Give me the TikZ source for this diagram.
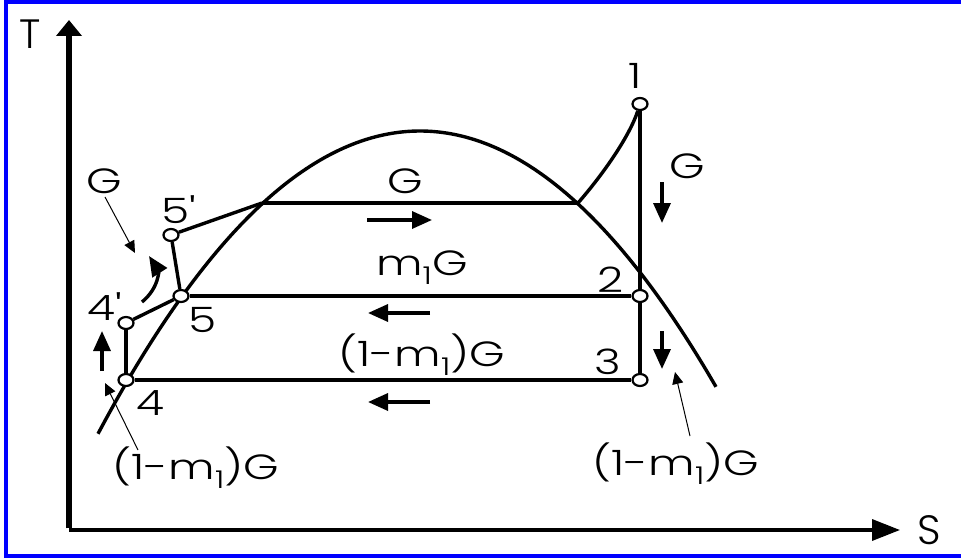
\documentclass[tikz,border=0pt]{standalone}
\usepackage{fontspec}
\setmainfont{Poppins Light}
\newfontfamily\widefont{Poppins Light}[FakeStretch=1.3]
\usetikzlibrary{arrows.meta,shapes.geometric}
\begin{document}
\begin{tikzpicture}[x=1pt,y=-1pt,
 thk/.style={line width=3.4pt},
 pnt/.style={ellipse,draw,line width=2.2pt,fill=white,minimum width=15pt,minimum height=12pt,inner sep=0pt},
 lbl/.style={font=\widefont\fontsize{35}{37}\selectfont, inner sep=0pt},
 axlbl/.style={font=\fontsize{41}{43}\selectfont, inner sep=0pt},
 thinarrow/.style={line width=1pt,-{Triangle[length=12pt,width=11pt]}},
 flow/.style={line width=3.4pt,-{Triangle[length=20pt,width=17pt]}},
]
\useasboundingbox (0,0) rectangle (961,559);
\draw[blue, line width=4pt] (6,2.5) rectangle (975,556);
% axes
\coordinate (o) at (69,530);
\coordinate (ty) at (69,20);
\coordinate (sx) at (900,530);
\draw[line width=5.5pt,-{Triangle[length=16pt,width=25pt]}] ([yshift=1.75pt]o) -- (ty);
\draw[line width=3.5pt,-{Triangle[length=28pt,width=21pt]}] (o) -- (sx);
\node[axlbl] (tl) at (30,34) {T};
\node[axlbl] (sl) at (929,530) {S};
% dome
\draw[thk] plot[domain=98:716,samples=80,smooth] (\x,{131+29.2*((\x-420)/100)^2});
% state points
\node[pnt] (p1) at (640,104) {};
\node[pnt] (p2) at (640,296) {};
\node[pnt] (p3) at (640,380) {};
\node[pnt] (p4) at (126,380) {};
\node[pnt] (p4p) at (126,323) {};
\node[pnt] (p5) at (181,296) {};
\node[pnt] (p5p) at (171,235) {};
\coordinate (a) at (262,203);
\coordinate (b) at (578,203);
% cycle lines
\draw[thk] (p4) -- (p4p);
\draw[thk] (p4p) -- (p5);
\draw[thk] (p5) -- (p5p);
\draw[thk] (p5p) -- (a);
\draw[thk] (a) -- (b);
\draw[thk] (b) .. controls (605,172) and (630,135) .. (p1);
\draw[thk] (p1) -- (p2);
\draw[thk] (p2) -- (p3);
\draw[thk] (p5) -- (p2);
\draw[thk] (p4) -- (p3);
% point labels
\node[lbl] (l1) at (635,76) {1};
\node[lbl] (l2) at (611,280) {2};
\node[lbl] (l3) at (608,362) {3};
\node[lbl] (l4) at (150,403) {4};
\node[lbl] (l4p) at (105,307) {4'};
\node[lbl] (l5) at (203,320) {5};
\node[lbl] (l5p) at (179,210) {5'};
% flow labels
\node[lbl] (gtop) at (405,181) {G};
\node[lbl] (m1g) at (422,268) {m\textsubscript{1}G};
\node[lbl] (m2g) at (422,355) {(1-m\textsubscript{1})G};
\node[lbl] (gr) at (687,166) {G};
\node[lbl] (gl) at (104,181) {G};
\node[lbl] (lbl4) at (196,468) {(1-m\textsubscript{1})G};
\node[lbl] (lbl3) at (676,464) {(1-m\textsubscript{1})G};
% flow arrows
\coordinate (f1s) at (367,220); \coordinate (f1e) at (432,220);
\draw[flow] (f1s) -- (f1e);
\coordinate (f2s) at (430,313); \coordinate (f2e) at (368,313);
\draw[flow] (f2s) -- (f2e);
\coordinate (f3s) at (430,402); \coordinate (f3e) at (368,402);
\draw[flow] (f3s) -- (f3e);
\coordinate (f4s) at (662,182); \coordinate (f4e) at (662,223);
\draw[flow] (f4s) -- (f4e);
\coordinate (f5s) at (662,331); \coordinate (f5e) at (662,369);
\draw[flow] (f5s) -- (f5e);
\coordinate (f6s) at (102,371); \coordinate (f6e) at (102,331);
\draw[flow] (f6s) -- (f6e);
\coordinate (f7s) at (142,302); \coordinate (f7e) at (149,256);
\draw[flow] (f7s) .. controls (160,287) and (158,270) .. (f7e);
% thin pointer arrows
\coordinate (t1s) at (105,197); \coordinate (t1e) at (135,253);
\draw[thinarrow] (t1s) -- (t1e);
\coordinate (t2s) at (138,450); \coordinate (t2e) at (105,383);
\draw[thinarrow] (t2s) -- (t2e);
\coordinate (t3s) at (690,436); \coordinate (t3e) at (675,372);
\draw[thinarrow] (t3s) -- (t3e);
\end{tikzpicture}
\end{document}
